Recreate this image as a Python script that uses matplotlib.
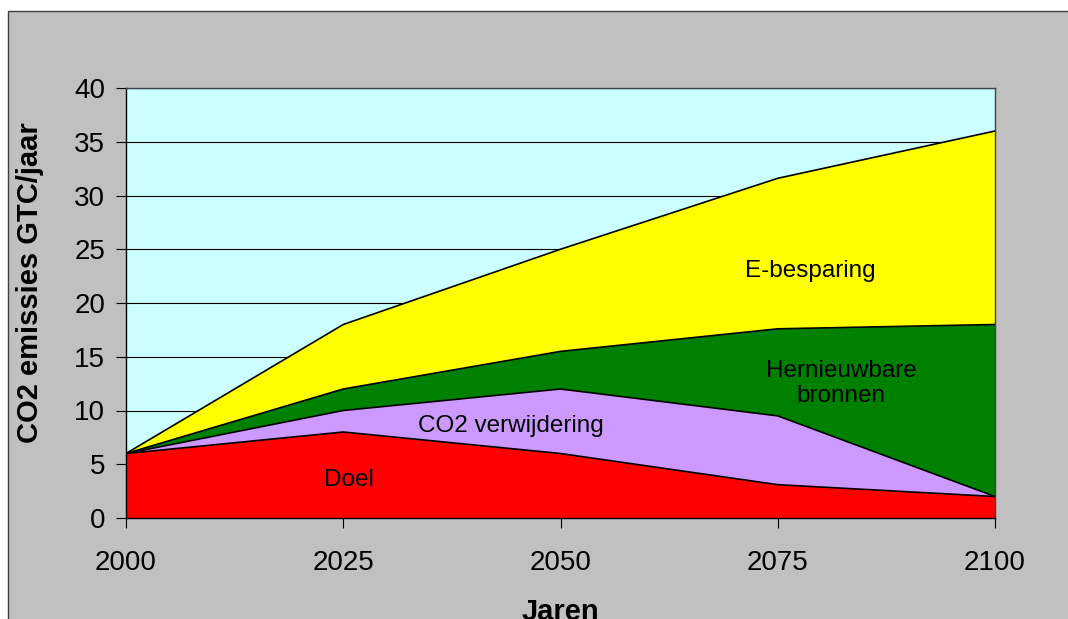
import matplotlib
matplotlib.use("Agg")
import matplotlib.pyplot as plt
from matplotlib.patches import Rectangle
import numpy as np

plt.rcParams['font.family'] = ['Liberation Sans', 'DejaVu Sans']

years = [2000, 2025, 2050, 2075, 2100]
doel = [6, 8, 6, 3.1, 2]
co2_verwijdering = [0, 2, 6, 6.4, 0]
hernieuwbare = [0, 2, 3.5, 8.1, 16]
e_besparing = [0, 6, 9.5, 14, 18]

series = [doel, co2_verwijdering, hernieuwbare, e_besparing]
colors = ['#FF0000', '#CC99FF', '#008000', '#FFFF00']
labels = ['Doel', 'CO2 verwijdering', 'Hernieuwbare\nbronnen', 'E-besparing']
label_pos = [(2025.7, 3.5), (2044.3, 8.6), (2082.3, 12.5), (2078.8, 23.0)]

fig = plt.figure(figsize=(10.68, 6.19), dpi=100)
fig.patch.set_facecolor('white')
bg = Rectangle((8/1068, -0.1), 1.2, 1 - 11/619 + 0.1,
               transform=fig.transFigure, facecolor='#C0C0C0',
               edgecolor='#404040', linewidth=1.0, zorder=-10)
fig.add_artist(bg)

ax = fig.add_axes([126/1068, 1 - 518/619, (995 - 126)/1068, (518 - 88)/619])
ax.set_zorder(5)
ax.set_facecolor('#CCFFFF')

x = np.array(years)
base = np.zeros(len(years))
for vals, c in zip(series, colors):
    top = base + np.array(vals)
    ax.fill_between(x, base, top, facecolor=c, edgecolor='none', zorder=2)
    ax.plot(x, top, color='black', linewidth=1.2, zorder=3)
    base = top

for (lx, ly), t in zip(label_pos, labels):
    ax.text(lx, ly, t, ha='center', va='center', fontsize=17.5, color='black',
            linespacing=1.2, zorder=4)

ax.set_xlim(2000, 2100)
ax.set_ylim(0, 40)
ax.set_xticks(years)
ax.set_yticks(range(0, 41, 5))
ax.yaxis.grid(True, color='black', linewidth=0.8, zorder=1)
ax.set_axisbelow(True)
ax.tick_params(axis='both', direction='out', length=7, width=0.8,
               labelsize=20, colors='black')
ax.tick_params(axis='x', pad=16)
ax.tick_params(axis='y', pad=8)
for s in ax.spines.values():
    s.set_color('#404040')
    s.set_linewidth(1.0)
ax.spines['left'].set_color('black')
ax.spines['bottom'].set_color('black')

ax.set_ylabel('CO2 emissies GTC/jaar', fontsize=21, fontweight='bold')
ax.yaxis.set_label_coords(-0.0944, 0.547)
ax.set_xlabel('Jaren', fontsize=21, fontweight='bold', labelpad=16)

fig.savefig('out.png', dpi=100)
